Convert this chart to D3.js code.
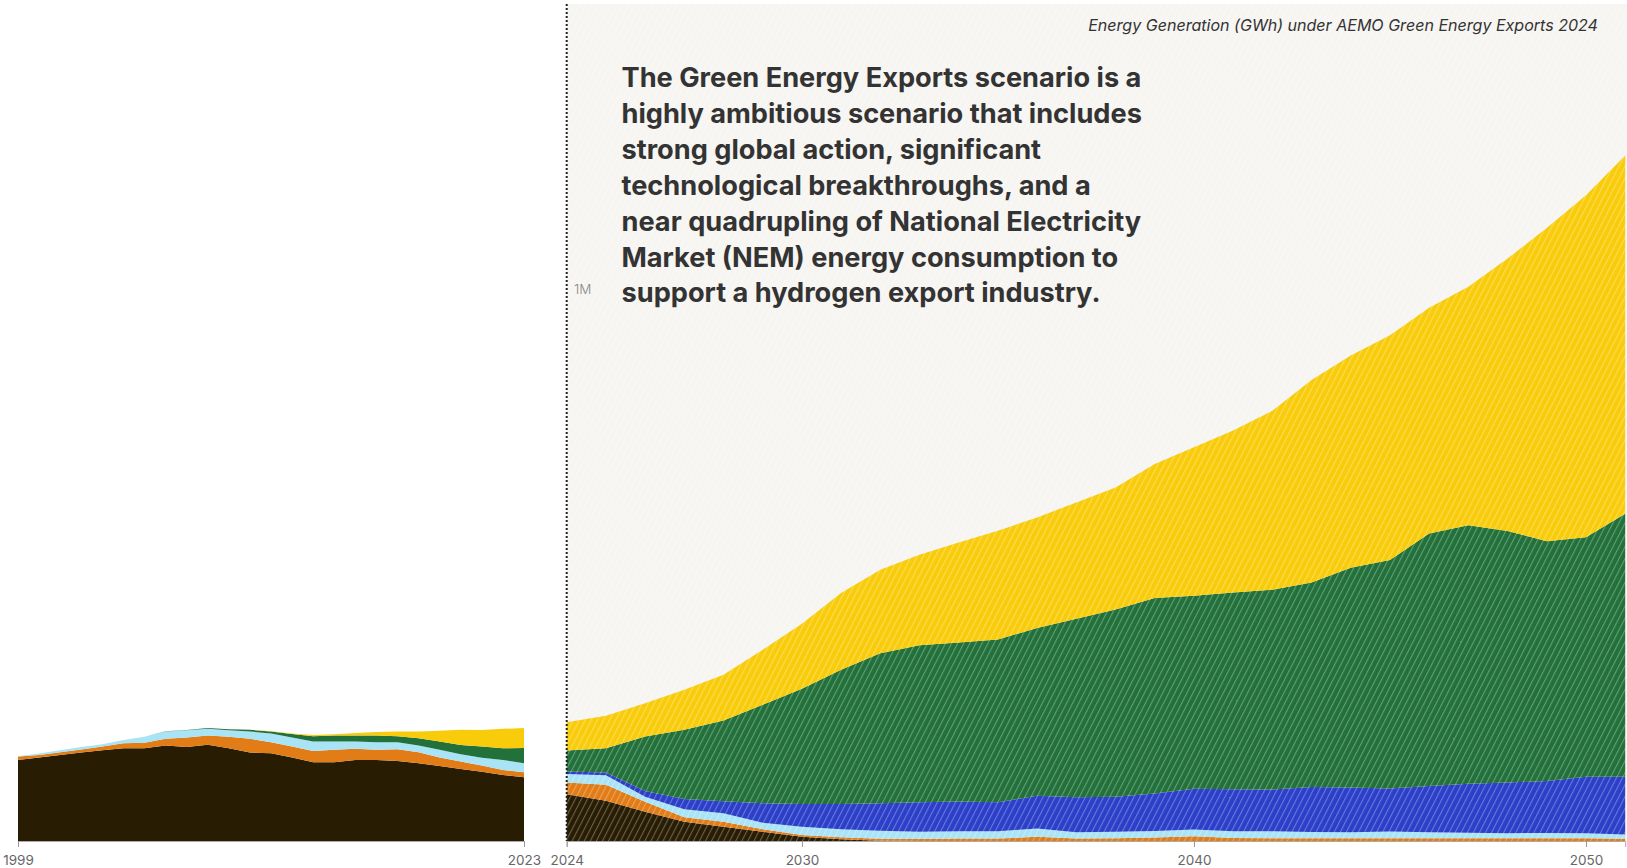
<!DOCTYPE html>
<html>
<head>
<meta charset="utf-8">
<script src="https://cdn.jsdelivr.net/npm/d3@7"></script>
<style>
  html, body { margin: 0; padding: 0; background: #ffffff; }
  svg { display: block; }
</style>
</head>
<body>
<svg id="chart" width="1627" height="868"></svg>
<script>
// ---------------- DATA (GWh) ----------------
const histYears = [1999,2000,2001,2002,2003,2004,2005,2006,2007,2008,2009,2010,2011,2012,2013,2014,2015,2016,2017,2018,2019,2020,2021,2022,2023];
const histCoal    = [147200,151400,156300,160500,164800,168500,168500,173200,170800,174500,168500,160500,159400,151400,143000,143000,147200,147200,145400,141200,136300,130800,125900,119900,115800];
const histGas     = [6000,4900,4900,5500,6500,9100,9600,12200,16900,16900,20500,24900,20000,20000,20500,22400,20000,18200,21300,20000,15100,13300,10900,9100,9100];
const histHydro   = [700,2400,3600,4400,4400,5500,10900,13300,13400,12200,12200,13300,15600,16400,16900,15100,13300,14000,12700,12000,14000,13400,14500,18200,16400];
const histStorage = [0,0,0,0,0,0,0,0,0,0,0,0,0,0,0,0,0,0,0,0,0,0,0,0,0];
const histWind    = [0,0,0,0,0,0,0,400,500,1300,1800,3100,3600,6200,9800,10900,10900,12000,10900,13400,15100,16900,20000,21300,27300];
const histSolar   = [0,0,0,0,0,0,0,0,0,0,0,0,400,1100,2400,2500,4400,6200,8400,12000,19400,27300,30300,35100,36300];

const projYears = [2024,2025,2026,2027,2028,2029,2030,2031,2032,2033,2034,2035,2036,2037,2038,2039,2040,2041,2042,2043,2044,2045,2046,2047,2048,2049,2050,2051];
const projCoal    = [84900,73200,53200,35100,26000,16900,7800,3100,500,0,0,0,0,0,0,0,0,0,0,0,0,0,0,0,0,0,0,0];
const projGas     = [21100,29100,18200,8000,9100,4400,3100,3600,3600,3600,4500,4500,7600,4500,4800,6400,8700,5500,4800,4800,5100,5100,5100,5100,5100,5100,5100,4000];
const projHydro   = [15800,17100,9100,14500,15300,12000,15100,14500,14500,13300,13300,13300,15100,11400,12200,11800,12200,12400,12700,11600,10900,12000,10900,9800,9100,9600,9100,7800];
const projStorage = [4200,4700,10400,18700,21800,35300,41300,46000,49800,53400,54000,52700,59400,63600,63100,68100,74000,75800,75800,81800,81200,78100,83600,89000,92100,94000,102300,104900];
const projWind    = [38200,44300,98700,125400,146500,178600,209000,243500,272200,285100,288400,295300,304400,324000,340200,354900,350200,357100,362700,371100,398700,415000,458500,469200,456100,435400,434700,477400];
const projSolar   = [51200,58700,60300,72700,83000,99900,118100,139400,151700,164300,181700,197200,200800,211000,221300,243000,269500,294000,324700,367300,385100,407600,409600,432700,494800,568200,620600,649800];

const seriesKeys = ["coal","gas","hydro","storage","wind","solar"];
const seriesColors = ["#281d03","#e27c17","#a9e3f6","#2b3fc9","#22713b","#f9cc0b"];

const histTicks = [1999, 2023];
const projTicks = [2024, 2030, 2040, 2050];
const yTickValues = [1000000];
const yTickLabels = ["1M"];

const titleText = "Energy Generation (GWh) under AEMO Green Energy Exports 2024";
const noteLines = [
  "The Green Energy Exports scenario is a",
  "highly ambitious scenario that includes",
  "strong global action, significant",
  "technological breakthroughs, and a",
  "near quadrupling of National Electricity",
  "Market (NEM) energy consumption to",
  "support a hydrogen export industry."
];

// ---------------- LAYOUT ----------------
const svg = d3.select("#chart");
const baseY = 841;
const topY = 4;
const projLeft = 566.7, projRight = 1625.2;
const histLeft = 18, histRight = 524;
const fontFam = "Inter, 'DejaVu Sans', sans-serif";

const y = d3.scaleLinear().domain([0, 1000000]).range([baseY, 290]);
const xHist = d3.scaleLinear().domain([1999, 2023]).range([histLeft, histRight]);
const xProj = d3.scaleLinear().domain([2024, 2051]).range([projLeft, projRight]);
const color = d3.scaleOrdinal().domain(seriesKeys).range(seriesColors);

function rows(years, arrs) {
  return years.map((yr, i) => {
    const r = { year: yr };
    seriesKeys.forEach((k, j) => r[k] = arrs[j][i]);
    return r;
  });
}
const histRows = rows(histYears, [histCoal, histGas, histHydro, histStorage, histWind, histSolar]);
const projRows = rows(projYears, [projCoal, projGas, projHydro, projStorage, projWind, projSolar]);
const stack = d3.stack().keys(seriesKeys);

// pattern
const defs = svg.append("defs");
const pat = defs.append("pattern")
  .attr("id", "stripes")
  .attr("patternUnits", "userSpaceOnUse")
  .attr("width", 5.4).attr("height", 12)
  .attr("patternTransform", "rotate(27)");
pat.append("rect").attr("x", 0).attr("y", 0).attr("width", 1.1).attr("height", 12)
  .attr("fill", "#ffffff").attr("fill-opacity", 0.3);

// projection background
svg.append("rect")
  .attr("x", projLeft).attr("y", topY)
  .attr("width", 1627 - projLeft).attr("height", baseY - topY)
  .attr("fill", "#f6f5f1");

// historical areas
const areaHist = d3.area().x(d => xHist(d.data.year)).y0(d => y(d[0])).y1(d => y(d[1]));
svg.append("g").selectAll("path").data(stack(histRows)).join("path")
  .attr("d", areaHist).attr("fill", d => color(d.key));

// projection areas
const areaProj = d3.area().x(d => xProj(d.data.year)).y0(d => y(d[0])).y1(d => y(d[1]));
svg.append("g").selectAll("path").data(stack(projRows)).join("path")
  .attr("d", areaProj).attr("fill", d => color(d.key));

// stripe overlay over the projection panel
svg.append("rect")
  .attr("x", projLeft).attr("y", topY)
  .attr("width", 1627 - projLeft).attr("height", baseY - topY)
  .attr("fill", "url(#stripes)");

// axes
function xAxis(scale, ticks) {
  return d3.axisBottom(scale).tickValues(ticks).tickFormat(d3.format("d")).tickSize(6).tickPadding(8);
}
[[xHist, histTicks], [xProj, projTicks]].forEach(([sc, tk]) => {
  const g = svg.append("g").attr("transform", `translate(0,${baseY})`).call(xAxis(sc, tk));
  g.select(".domain").attr("stroke", "#aaa").attr("stroke-width", 1);
  g.selectAll(".tick line").attr("stroke", "#999");
  g.selectAll(".tick text").attr("fill", "#666").attr("font-size", 13.5).attr("font-family", fontFam);
});

// y label (1M)
svg.append("g").selectAll("text").data(yTickValues).join("text")
  .attr("x", 574).attr("y", d => y(d))
  .attr("dominant-baseline", "middle")
  .attr("font-family", fontFam).attr("font-size", 13.5).attr("font-weight", 300)
  .attr("fill", "#888")
  .text((d, i) => yTickLabels[i]);

// dotted divider
svg.append("line")
  .attr("x1", projLeft).attr("x2", projLeft)
  .attr("y1", topY).attr("y2", baseY)
  .attr("stroke", "#222").attr("stroke-width", 2)
  .attr("stroke-dasharray", "2,2");

// title
const title = svg.append("text")
  .attr("x", 1598).attr("y", 31)
  .attr("text-anchor", "end")
  .attr("font-family", fontFam).attr("font-style", "italic")
  .attr("font-size", 15).attr("fill", "#333")
  .text(titleText);
{
  const w = title.node().getComputedTextLength();
  title.attr("font-size", 15 * 510 / w);
}

// note text
const note = svg.append("g");
let fs = 26;
const probe = note.append("text").attr("font-family", fontFam).attr("font-weight", 700)
  .attr("font-size", fs).text(noteLines[0]);
fs = fs * 520 / probe.node().getComputedTextLength();
probe.remove();
note.selectAll("text").data(noteLines).join("text")
  .attr("x", 621.5)
  .attr("y", (d, i) => 87 + i * 35.9)
  .attr("font-family", fontFam).attr("font-weight", 700)
  .attr("font-size", fs).attr("fill", "#333")
  .text(d => d);
</script>
</body>
</html>
